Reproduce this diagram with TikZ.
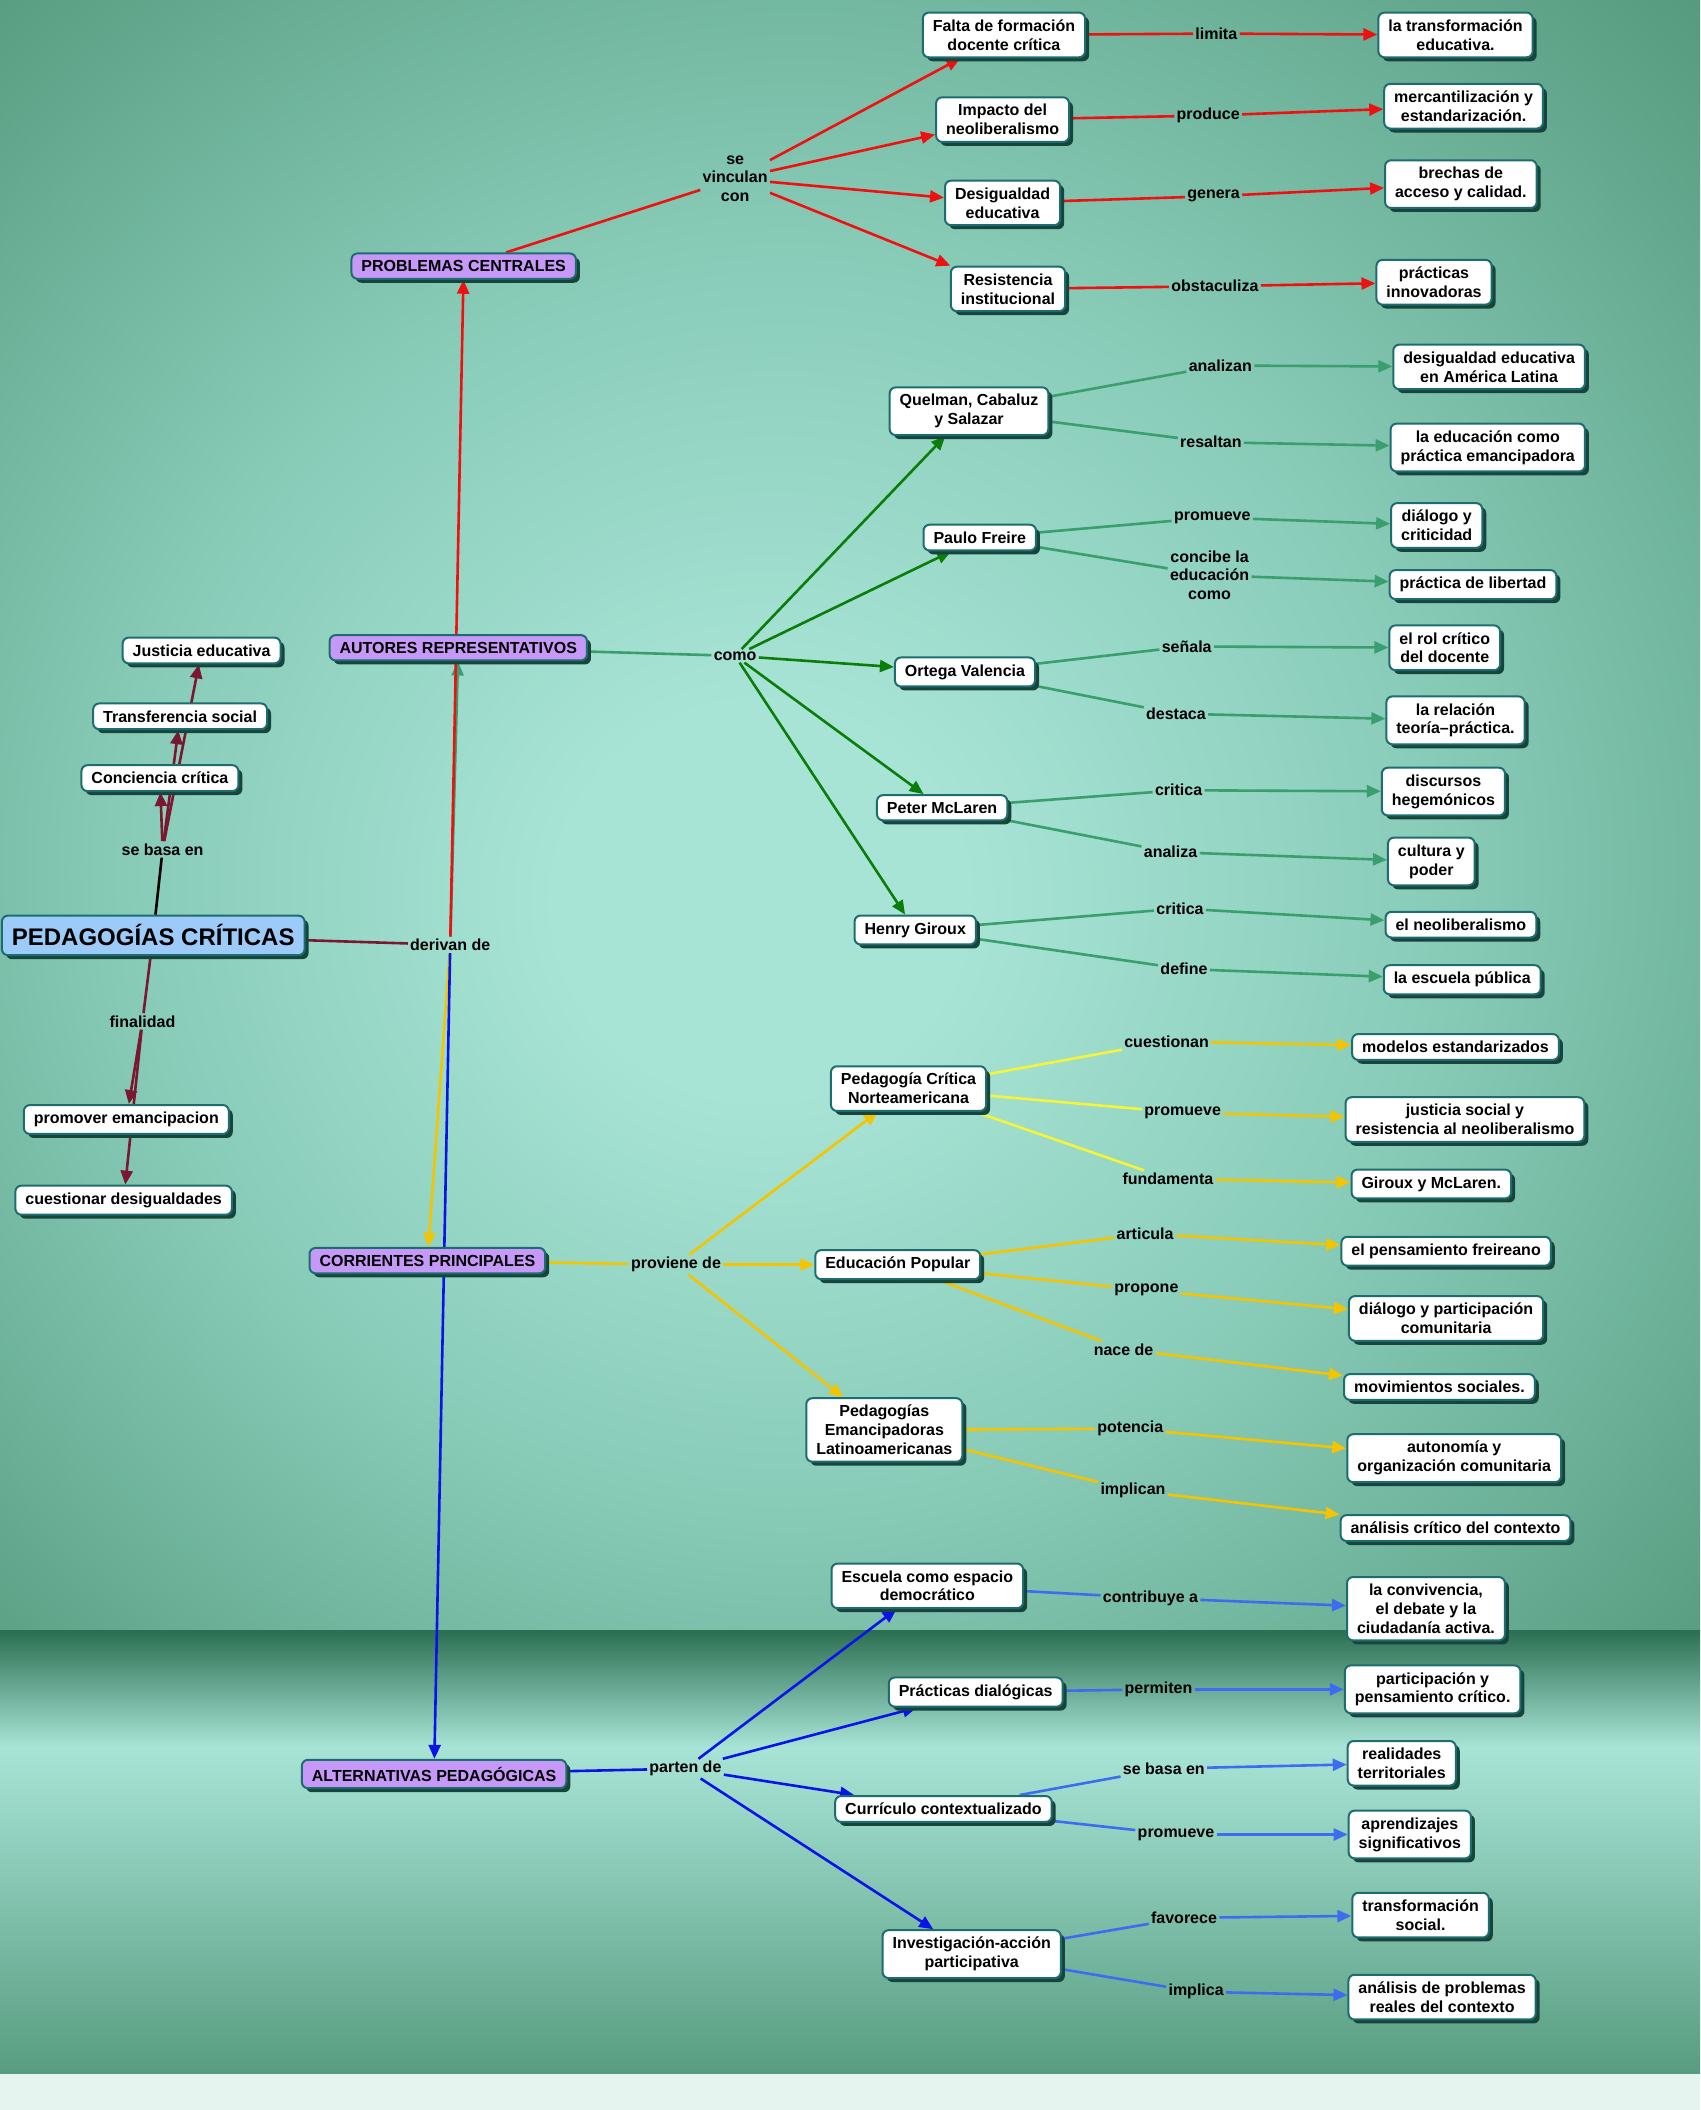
\documentclass[tikz,border=0pt]{standalone}
\usepackage{fontspec}
\setmainfont{Liberation Sans}
\usepackage{tikz}
\usepackage{xcolor}
\usetikzlibrary{arrows.meta,shadows}

\definecolor{pinedark}{HTML}{2B6F52}
\definecolor{pineedge}{HTML}{3A8064}
\definecolor{pinemid}{HTML}{579C80}
\definecolor{jade}{HTML}{86CAB6}
\definecolor{seafoam}{HTML}{A8E4D6}
\definecolor{mist}{HTML}{E6F4F0}
\pgfdeclareradialshading{glow}{\pgfpoint{-3bp}{-3bp}}{color(0bp)=(seafoam); color(6bp)=(seafoam); color(20bp)=(jade); color(36bp)=(pinemid); color(50bp)=(pineedge)}
\pgfdeclarelayer{bg}
\pgfdeclarelayer{links}
\pgfsetlayers{bg,links,main}

\begin{document}
\begin{tikzpicture}[x=0.672pt,y=-0.672pt,
  font=\fontsize{8}{9.4}\selectfont\bfseries,
  mynode/.style={draw=tealedge,line width=1pt,fill=white,rounded corners=3pt,align=center,
    inner xsep=5pt,inner ysep=3.5pt,
    drop shadow={shadow xshift=2pt,shadow yshift=-2pt,fill=shadowteal,opacity=1}},
  mytopic/.style={mynode,fill=lavender},
  myroot/.style={mynode,fill=skyblue,font=\fontsize{12}{14}\selectfont\bfseries,inner ysep=4.5pt},
  myword/.style={inner sep=1pt,align=center},
  myline/.style={line width=1.3pt},
  myarrow/.style={myline,-{Triangle[length=7pt,width=6pt]}}]
\definecolor{tealedge}{HTML}{1D6D70}
\definecolor{shadowteal}{HTML}{17453C}
\definecolor{lavender}{HTML}{C699F8}
\definecolor{skyblue}{HTML}{9CCBFA}
\definecolor{cardinal}{HTML}{EE1111}
\definecolor{wine}{HTML}{7A1832}
\definecolor{forest}{HTML}{0A7D0A}
\definecolor{seagrass}{HTML}{3A9E6E}
\definecolor{mustard}{HTML}{F5C400}
\definecolor{lemon}{HTML}{F4F43A}
\definecolor{cobalt}{HTML}{0A14E6}
\definecolor{royal}{HTML}{3D6CF0}
\useasboundingbox (0,0) rectangle (1265,1570);

% background
\begin{pgfonlayer}{bg}
\shade[shading=glow] (0,0) rectangle (1265,1213);
\shade[top color=pinedark, bottom color=seafoam] (0,1213) rectangle (1265,1300);
\shade[top color=seafoam, bottom color=pinemid] (0,1300) rectangle (1265,1543);
\fill[mist] (0,1543) rectangle (1265,1570);
\end{pgfonlayer}

% centre and left side
\node[myroot] (pc) at (114,696) {PEDAGOGÍAS CRÍTICAS};
\node[myword] (basa) at (121,632) {se basa en};
\node[myword] (fin) at (106,760) {finalidad};
\node[myword] (deriv) at (335,703) {derivan de};
\foreach \nm/\x/\y/\txt in {conc/119/579/Conciencia crítica, transf/134/533/Transferencia social,
  just/150/484/Justicia educativa, prom/94/833/promover emancipacion, cuest/92/893/cuestionar desigualdades}
  {  \node[mynode] (\nm) at (\x,\y) {\txt};}
\foreach \nm/\x/\y/\txt in {prob/345/198/PROBLEMAS CENTRALES, aut/341/482/AUTORES REPRESENTATIVOS,
  corr/318/938/CORRIENTES PRINCIPALES, alt/323/1320/ALTERNATIVAS PEDAGÓGICAS}
  {  \node[mytopic] (\nm) at (\x,\y) {\txt};}

% problemas
\node[myword] (vinc) at (547,133) {se\\vinculan\\con};
\foreach \nm/\x/\y/\txt in {falta/747/26/{Falta de formación\\docente crítica}, impacto/746/89/{Impacto del\\neoliberalismo},
  desig/746/151/{Desigualdad\\educativa}, resist/750/215/{Resistencia\\institucional},
  ltrans/1083/26/{la transformación\\educativa.}, merc/1089/79/{mercantilización y\\estandarización.},
  brech/1087/137/{brechas de\\acceso y calidad.}, pinnov/1067/210/{prácticas\\innovadoras}}
  {  \node[mynode] (\nm) at (\x,\y) {\txt};}
\foreach \nm/\x/\y/\txt in {limita/905/25/limita, produce/899/86/produce, genera/903/146/genera, obstac/904/213/obstaculiza}
  {  \node[myword] (\nm) at (\x,\y) {\txt};}

% autores
\node[myword] (como) at (547,488) {como};
\foreach \nm/\x/\y/\txt in {quel/721/306/{Quelman, Cabaluz\\y Salazar}, freire/729/400/Paulo Freire,
  ortega/718/500/Ortega Valencia, mclaren/701/601/Peter McLaren, giroux/681/692/Henry Giroux,
  desigal/1108/273/{desigualdad educativa\\en América Latina}, emancip/1107/333/{la educación como\\práctica emancipadora},
  dialogo/1069/391/{diálogo y\\criticidad}, libertad/1096/435/práctica de libertad,
  rol/1075/482/{el rol crítico\\del docente}, teoria/1083/536/{la relación\\teoría–práctica.},
  discursos/1074/589/{discursos\\hegemónicos}, cultura/1065/641/{cultura y\\poder},
  neolib/1087/688/el neoliberalismo, escpub/1088/729/la escuela pública}
  {  \node[mynode] (\nm) at (\x,\y) {\txt};}
\foreach \nm/\x/\y/\txt in {analizan/908/272/analizan, resaltan/901/329/resaltan, promA/902/385/promueve,
  concibe/900/428/{concibe la\\educación\\como}, senala/883/481/señala, destaca/875/531/destaca,
  critA/877/588/critica, analiza/871/634/analiza, critB/878/676/critica, define/881/721/define}
  {  \node[myword] (\nm) at (\x,\y) {\txt};}

% corrientes
\node[myword] (provi) at (503,941) {proviene de};
\foreach \nm/\x/\y/\txt in {pcn/676/810/{Pedagogía Crítica\\Norteamericana}, edpop/668/941/Educación Popular,
  pel/658/1064/{Pedagogías\\Emancipadoras\\Latinoamericanas},
  modelos/1083/779/modelos estandarizados, justicia/1090/833/{justicia social y\\resistencia al neoliberalismo},
  girmc/1065/881/Giroux y McLaren., freireano/1076/931/el pensamiento freireano,
  dialpart/1076/981/{diálogo y participación\\comunitaria}, movim/1071/1032/movimientos sociales.,
  autonom/1082/1085/{autonomía y\\organización comunitaria}, analcrit/1083/1137/análisis crítico del contexto}
  {  \node[mynode] (\nm) at (\x,\y) {\txt};}
\foreach \nm/\x/\y/\txt in {cuestionan/868/775/cuestionan, promB/880/828/promueve, fundam/869/877/fundamenta,
  articula/852/918/articula, propone/853/960/propone, nace/836/1004/nace de,
  potencia/841/1063/potencia, implican/843/1109/implican}
  {  \node[myword] (\nm) at (\x,\y) {\txt};}

% alternativas
\node[myword] (parten) at (510,1316) {parten de};
\foreach \nm/\x/\y/\txt in {escuela/690/1180/{Escuela como espacio\\democrático}, practicas/726/1259/Prácticas dialógicas,
  curric/702/1346/Currículo contextualizado, invest/723/1454/{Investigación-acción\\participativa},
  conviv/1061/1197/{la convivencia,\\el debate y la\\ciudadanía activa.}, partic/1066/1257/{participación y\\pensamiento crítico.},
  realid/1043/1312/{realidades\\territoriales}, aprend/1049/1365/{aprendizajes\\significativos},
  transoc/1057/1425/{transformación\\social.}, anprob/1073/1486/{análisis de problemas\\reales del contexto}}
  {  \node[mynode] (\nm) at (\x,\y) {\txt};}
\foreach \nm/\x/\y/\txt in {contrib/856/1189/contribuye a, permiten/862/1257/permiten, basaB/866/1316/se basa en,
  promC/875/1365/promueve, favorece/881/1427/favorece, implica/890/1482/implica}
  {  \node[myword] (\nm) at (\x,\y) {\txt};}

% connectors
\begin{pgfonlayer}{links}
\draw[myline,black] (pc) -- (basa);
\foreach \t in {conc,transf,just}
  {  \draw[myarrow,wine] (basa) -- (\t);}
\draw[myline,wine] (pc) -- (fin);
\foreach \t in {prom,cuest}
  {  \draw[myarrow,wine] (fin) -- (\t);}
\draw[myline,wine] (pc) -- (deriv);
\draw[myarrow,seagrass] (deriv) -- (aut);
\draw[myarrow,cardinal] (deriv) -- (prob);
\draw[myarrow,mustard] (deriv) -- (corr);
\draw[myarrow,cobalt] (deriv) -- (alt);

\draw[myline,cardinal] (prob) -- (vinc);
\draw[myline,seagrass] (aut) -- (como);
\draw[myline,mustard] (corr) -- (provi);
\draw[myline,cobalt] (alt) -- (parten);
\foreach \a/\b/\crlr in {vinc/falta/cardinal, vinc/impacto/cardinal, vinc/desig/cardinal, vinc/resist/cardinal,
  como/quel/forest, como/freire/forest, como/ortega/forest, como/mclaren/forest, como/giroux/forest,
  provi/pcn/mustard, provi/edpop/mustard, provi/pel/mustard,
  parten/escuela/cobalt, parten/practicas/cobalt, parten/curric/cobalt, parten/invest/cobalt}
  {  \draw[myarrow,\crlr] (\a) -- (\b);}

\foreach \a/\w/\b/\crlr/\tip in {falta/limita/ltrans/cardinal/cardinal, impacto/produce/merc/cardinal/cardinal,
  desig/genera/brech/cardinal/cardinal, resist/obstac/pinnov/cardinal/cardinal,
  quel/analizan/desigal/seagrass/seagrass, quel/resaltan/emancip/seagrass/seagrass,
  freire/promA/dialogo/seagrass/seagrass, freire/concibe/libertad/seagrass/seagrass,
  ortega/senala/rol/seagrass/seagrass, ortega/destaca/teoria/seagrass/seagrass,
  mclaren/critA/discursos/seagrass/seagrass, mclaren/analiza/cultura/seagrass/seagrass,
  giroux/critB/neolib/seagrass/seagrass, giroux/define/escpub/seagrass/seagrass,
  pcn/cuestionan/modelos/lemon/mustard, pcn/promB/justicia/lemon/mustard, pcn/fundam/girmc/lemon/mustard,
  edpop/articula/freireano/mustard/mustard, edpop/propone/dialpart/mustard/mustard, edpop/nace/movim/mustard/mustard,
  pel/potencia/autonom/mustard/mustard, pel/implican/analcrit/mustard/mustard,
  escuela/contrib/conviv/royal/royal, practicas/permiten/partic/royal/royal,
  curric/basaB/realid/royal/royal, curric/promC/aprend/royal/royal,
  invest/favorece/transoc/royal/royal, invest/implica/anprob/royal/royal}
  {  \draw[myline,\crlr] (\a) -- (\w);
     \draw[myarrow,\tip] (\w) -- (\b);}
\end{pgfonlayer}
\end{tikzpicture}
\end{document}
